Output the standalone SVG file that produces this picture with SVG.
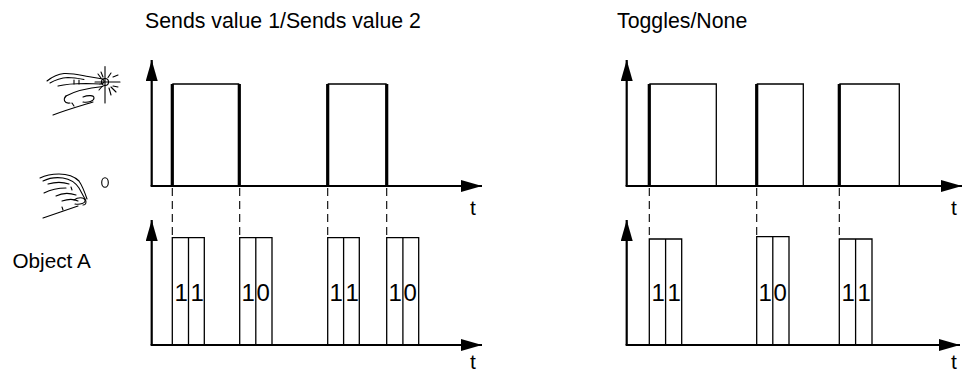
<svg xmlns="http://www.w3.org/2000/svg" width="972" height="374" viewBox="0 0 972 374">
<style>
text{font-family:"Liberation Sans",Arial,sans-serif;fill:#000}
.title{font-size:21.3px}
.lbl{font-size:20.7px}
.dig{font-size:24px}
.t{font-size:21px}
.axis{stroke:#000;stroke-width:2.2;fill:none}
.thin{stroke:#000;stroke-width:1.3;fill:none}
.thick{stroke:#000;stroke-width:3.2;fill:none}
.dash{stroke:#000;stroke-width:1.1;fill:none;stroke-dasharray:8 5}
.hand{stroke:#000;stroke-width:1.1;fill:none;stroke-linecap:round;stroke-linejoin:round}
</style>
<defs>
<marker id="arr" markerUnits="userSpaceOnUse" markerWidth="21" markerHeight="12" refX="21" refY="6" orient="auto">
<path d="M0,0 L21,6 L0,12 z" fill="#000"/>
</marker>
</defs>
<rect width="972" height="374" fill="#fff"/>

<g id="titles">
<text class="title" x="145" y="28">Sends value 1/Sends value 2</text>
<text class="title" x="617" y="28">Toggles/None</text>
<text class="lbl" x="12.5" y="267.5">Object A</text>
</g>

<g id="hand-press">
<path class="hand" d="M47,81 C52,77 57,74 64,73.5 C72,73 80,75 88,76.5 L100,78.5"/>
<path class="hand" d="M50,83 C55,80 61,78 68,77.5 C74,77.5 79,78.5 84,79.5"/>
<path class="hand" d="M58,86 C66,84 76,83.5 86,83.5 L100,84"/>
<path class="hand" d="M100,78.5 C105,79 106,83.5 100,84"/>
<path class="hand" d="M74,80 L74,84 M79,80 L79,84"/>
<path class="hand" d="M66,96 C75,91 88,88 103,86.5"/>
<path class="hand" d="M66,96 C63,99 64,104 70,103"/>
<path class="hand" d="M83,97 C88,95 94,95 94,98 C94,101 88,103 83,102"/>
<path class="hand" d="M72,103 L74,106"/>
<path class="hand" d="M53,115 C66,110 80,106 93,102"/>
<g class="hand">
<circle cx="105" cy="82" r="3.5"/>
<path d="M105,66.5 L105,103 M95,82 L120,82 M98,74 L101,78 M111,73 L108,77.5 M113,77 L118,75 M111,87 L116,92 M99,90 L102,86.5 M109,88 L111,95 M101,72 L103,77 M113,86 L118,87"/>
</g>
</g>

<g id="hand-release">
<path class="hand" d="M40,178 C46,175 52,174 59,174 C67,174 74,176 79,181 C83,187 85,193 87,199"/>
<path class="hand" d="M43,181 C49,178 56,177 63,178 C70,179 75,182 79,188 L85,199"/>
<path class="hand" d="M48,184 C55,182 63,182 69,184"/>
<path class="hand" d="M44,193 C50,190 58,188 66,188"/>
<path class="hand" d="M56,196 C62,193 70,193 76,195"/>
<path class="hand" d="M62,201 C68,199 74,199 78,201"/>
<path class="hand" d="M74,200 C78,197 84,197 85,200 C86,203 80,205 75,204"/>
<path class="hand" d="M85,199 C87,202 86,205 83,205"/>
<path class="hand" d="M71,187 L72,190"/>
<path class="hand" d="M43,218 C55,214 66,210 78,206"/>
<path class="hand" d="M62,207 L63,210"/>
<ellipse class="hand" cx="105" cy="182.5" rx="3.3" ry="4.8"/>
</g>

<g id="chart-left-top">
<line class="axis" x1="151.7" y1="186" x2="151.7" y2="60" marker-end="url(#arr)"/>
<line class="axis" x1="150.6" y1="186" x2="482" y2="186" marker-end="url(#arr)"/>
<path class="thin" d="M172.3,84 H239.3 M327.7,84 H386.7"/>
<path class="thick" d="M172.3,186 V84 M239.3,186 V84 M327.7,186 V84 M386.7,186 V84"/>
<text class="t" x="470" y="215">t</text>
</g>

<g id="chart-left-bottom">
<line class="axis" x1="151.7" y1="345" x2="151.7" y2="220" marker-end="url(#arr)"/>
<line class="axis" x1="150.6" y1="345" x2="482" y2="345" marker-end="url(#arr)"/>
<path class="thin" d="M172.3,345 V237.7 H204.3 V345 M188.5,237.7 V345"/>
<path class="thin" d="M239.7,345 V237.7 H272 V345 M255.8,237.7 V345"/>
<path class="thin" d="M327.7,345 V237.7 H359.3 V345 M343.6,237.7 V345"/>
<path class="thin" d="M386.7,345 V237.7 H418.7 V345 M402.9,237.7 V345"/>
<text class="dig" x="174.5" y="301">1</text>
<text class="dig" x="190.5" y="301">1</text>
<text class="dig" x="241.5" y="301">1</text>
<text class="dig" x="256.5" y="301">0</text>
<text class="dig" x="329.5" y="301">1</text>
<text class="dig" x="345.5" y="301">1</text>
<text class="dig" x="388.5" y="301">1</text>
<text class="dig" x="403.5" y="301">0</text>
<text class="t" x="470" y="369">t</text>
</g>

<g id="chart-right-top">
<line class="axis" x1="626.7" y1="186" x2="626.7" y2="60" marker-end="url(#arr)"/>
<line class="axis" x1="625.6" y1="186" x2="962" y2="186" marker-end="url(#arr)"/>
<path class="thin" d="M649.3,84 H716.3 V186 M756.7,84 H803.3 V186 M839.3,84 H899.3 V186"/>
<path class="thick" d="M649.3,186 V84 M756.7,186 V84 M839.3,186 V84"/>
<text class="t" x="951" y="215">t</text>
</g>

<g id="chart-right-bottom">
<line class="axis" x1="626.7" y1="345" x2="626.7" y2="220" marker-end="url(#arr)"/>
<line class="axis" x1="625.6" y1="345" x2="960" y2="345" marker-end="url(#arr)"/>
<path class="thin" d="M649.3,345 V239 H681.7 V345 M665.6,239 V345"/>
<path class="thin" d="M756.7,345 V236.7 H789 V345 M772.8,236.7 V345"/>
<path class="thin" d="M839.3,345 V239 H872 V345 M855.6,239 V345"/>
<text class="dig" x="651.5" y="301">1</text>
<text class="dig" x="667.5" y="301">1</text>
<text class="dig" x="758.5" y="301">1</text>
<text class="dig" x="773.5" y="301">0</text>
<text class="dig" x="841.5" y="301">1</text>
<text class="dig" x="857.5" y="301">1</text>
<text class="t" x="951" y="369">t</text>
</g>

<g id="connectors">
<path class="dash" d="M172.3,188 V236 M239.7,188 V236 M327.7,188 V236 M386.7,188 V236"/>
<path class="dash" d="M649.3,188 V237 M756.7,188 V235 M839.3,188 V237"/>
</g>
</svg>
